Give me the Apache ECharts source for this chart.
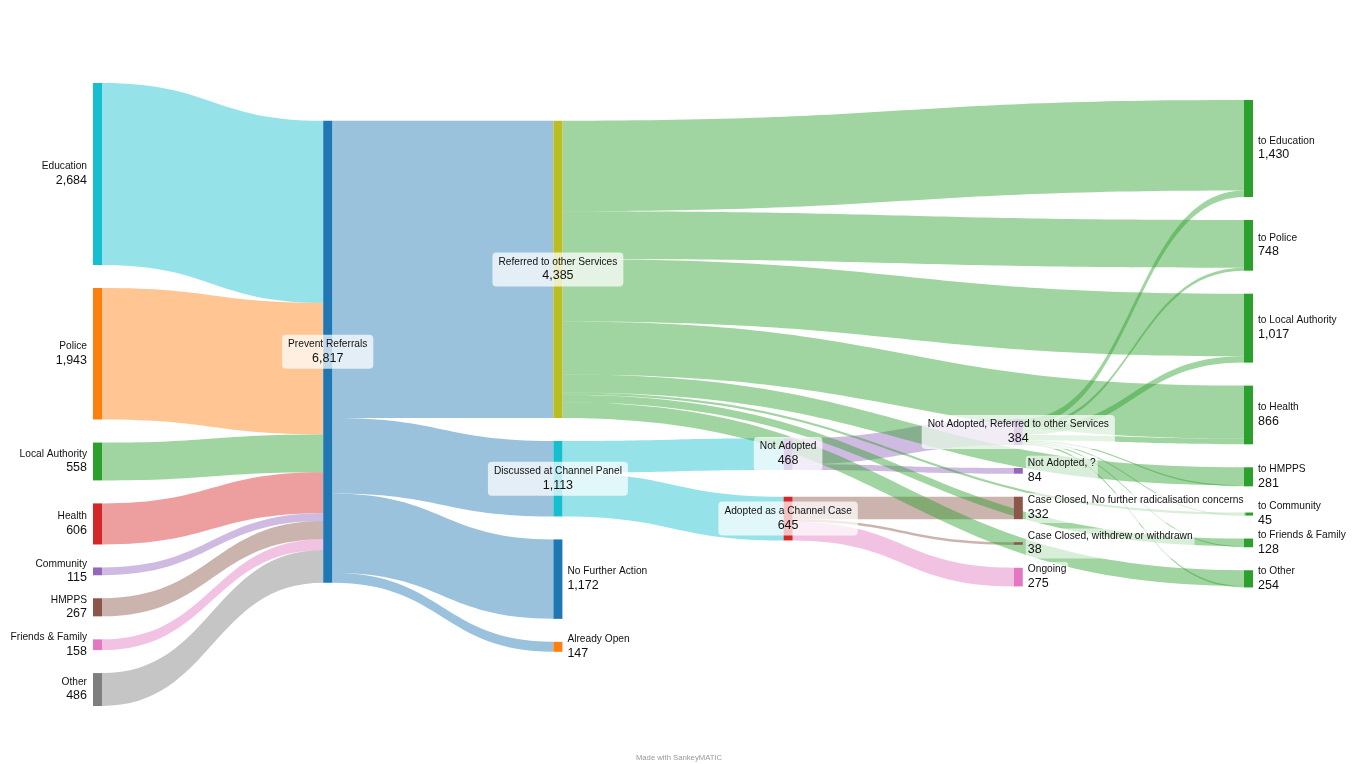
<!DOCTYPE html>
<html><head><meta charset="utf-8">
<script src="https://cdn.jsdelivr.net/npm/echarts@6/dist/echarts.min.js"></script>
<style>html,body{margin:0;padding:0;background:#fff}#c{width:1358px;height:764px}</style>
</head><body><div id="c"></div>
<script>
// ---- data ----
const hubName = 'Prevent Referrals';
const sourceNames = ['Education','Police','Local Authority','Health','Community','HMPPS','Friends & Family','Other'];
const sourceValues = [2684,1943,558,606,115,267,158,486];
const outcomeNames = ['Referred to other Services','Discussed at Channel Panel','No Further Action','Already Open'];
const outcomeValues = [4385,1113,1172,147];
const channelNames = ['Not Adopted','Adopted as a Channel Case'];
const channelValues = [468,645];
const notAdoptedNames = ['Not Adopted, Referred to other Services','Not Adopted, ?'];
const notAdoptedValues = [384,84];
const adoptedNames = ['Case Closed, No further radicalisation concerns','Case Closed, withdrew or withdrawn','Ongoing'];
const adoptedValues = [332,38,275];
const destNames = ['to Education','to Police','to Local Authority','to Health','to HMPPS','to Community','to Friends & Family','to Other'];
const fromReferredValues = [1335,703,922,782,266,33,113,231];
const fromNotAdoptedReferredValues = [95,45,95,84,15,12,15,23];

// ---- colours (style) ----
const colorMap = {
  'Education':'#17becf','Police':'#ff7f0e','Local Authority':'#2ca02c','Health':'#d62728',
  'Community':'#9467bd','HMPPS':'#8c564b','Friends & Family':'#e377c2','Other':'#7f7f7f',
  'Prevent Referrals':'#1f77b4','Referred to other Services':'#bcbd22','Discussed at Channel Panel':'#17becf',
  'No Further Action':'#1f77b4','Already Open':'#ff7f0e','Not Adopted':'#9467bd','Adopted as a Channel Case':'#d62728',
  'Not Adopted, Referred to other Services':'#9467bd','Not Adopted, ?':'#9467bd',
  'Case Closed, No further radicalisation concerns':'#8c564b','Case Closed, withdrew or withdrawn':'#8c564b','Ongoing':'#e377c2'
};
destNames.forEach(n => colorMap[n] = '#2ca02c');

// ---- build links ----
const links = [];
function addLink(s, t, v, useTarget) {
  links.push({source: s, target: t, value: v, lineStyle: {color: colorMap[useTarget ? t : s]}});
}
sourceNames.forEach((n, i) => addLink(n, hubName, sourceValues[i], false));
outcomeNames.forEach((n, i) => addLink(hubName, n, outcomeValues[i], false));
channelNames.forEach((n, i) => addLink(outcomeNames[1], n, channelValues[i], false));
notAdoptedNames.forEach((n, i) => addLink(channelNames[0], n, notAdoptedValues[i], true));
adoptedNames.forEach((n, i) => addLink(channelNames[1], n, adoptedValues[i], true));
destNames.forEach((n, i) => addLink(outcomeNames[0], n, fromReferredValues[i], true));
destNames.forEach((n, i) => addLink(notAdoptedNames[0], n, fromNotAdoptedReferredValues[i], true));

const allNames = [].concat(sourceNames, [hubName], outcomeNames, channelNames, notAdoptedNames, adoptedNames, destNames);
const inSum = {}, outSum = {};
links.forEach(l => { outSum[l.source] = (outSum[l.source]||0) + l.value; inSum[l.target] = (inSum[l.target]||0) + l.value; });
const nodeValue = n => Math.max(inSum[n]||0, outSum[n]||0);

// ---- layout geometry ----
const TOP = 62, BOTTOM = 58, LEFT = 93, RIGHT = 105;
const H = 764 - TOP - BOTTOM;
const ECH_GAP = 26;       // echarts nodeGap (sets the value->px scale the same way echarts does)
const PAD = 23;           // minimum spacing used when relaxing node positions
const ITER = 6;

function computeLayers() {
  const layer = {}; allNames.forEach(n => layer[n] = 0);
  let changed = true;
  while (changed) {
    changed = false;
    links.forEach(l => { if (layer[l.target] < layer[l.source] + 1) { layer[l.target] = layer[l.source] + 1; changed = true; } });
  }
  return layer;
}
const layerOf = computeLayers();
const nLayers = Math.max.apply(null, allNames.map(n => layerOf[n])) + 1;
const colNames = Array.from({length: nLayers}, () => []);
allNames.forEach(n => colNames[layerOf[n]].push(n));
// same value->pixel scale ECharts computes: min over columns of (H - (n-1)*gap) / sum
const ky = Math.min.apply(null, colNames.map(c => (H - (c.length - 1) * ECH_GAP) / c.reduce((s, n) => s + nodeValue(n), 0)));

// order-preserving relaxation (d3-sankey style) -> vertical node positions
function relaxLayout() {
  const byName = {};
  const N = allNames.map((n, i) => (byName[n] = {name: n, index: i, layer: layerOf[n], value: nodeValue(n), sourceLinks: [], targetLinks: []}));
  links.forEach((l, i) => {
    const o = {index: i, source: byName[l.source], target: byName[l.target], value: l.value, width: l.value * ky};
    o.source.sourceLinks.push(o); o.target.targetLinks.push(o);
  });
  const columns = colNames.map(c => c.map(n => byName[n]));
  columns.forEach(col => {
    let y = 0;
    col.forEach(n => { n.y0 = y; n.y1 = y + n.value * ky; y = n.y1 + PAD; });
    const s = (H - y + PAD) / (col.length + 1);
    col.forEach((n, i) => { n.y0 += s * (i + 1); n.y1 += s * (i + 1); });
  });
  function reorder() {
    N.forEach(n => {
      n.sourceLinks.sort((a, b) => (a.target.y0 - b.target.y0) || (a.index - b.index));
      n.targetLinks.sort((a, b) => (a.source.y0 - b.source.y0) || (a.index - b.index));
    });
  }
  reorder();
  function targetTop(source, target) {
    let y = source.y0;
    for (const l of source.sourceLinks) { if (l.target === target) break; y += l.width + PAD; }
    for (const l of target.targetLinks) { if (l.source === source) break; y -= l.width; }
    return y;
  }
  function sourceTop(source, target) {
    let y = target.y0;
    for (const l of target.targetLinks) { if (l.source === source) break; y += l.width + PAD; }
    for (const l of source.sourceLinks) { if (l.target === target) break; y -= l.width; }
    return y;
  }
  function downPass(nodes, y, i) {
    for (; i < nodes.length; ++i) { const n = nodes[i]; const dy = y - n.y0; if (dy > 1e-6) { n.y0 += dy; n.y1 += dy; } y = n.y1 + PAD; }
  }
  function upPass(nodes, y, i) {
    for (; i >= 0; --i) { const n = nodes[i]; const dy = n.y1 - y; if (dy > 1e-6) { n.y0 -= dy; n.y1 -= dy; } y = n.y0 - PAD; }
  }
  function resolve(nodes) {
    const i = nodes.length >> 1, subj = nodes[i];
    upPass(nodes, subj.y0 - PAD, i - 1);
    downPass(nodes, subj.y1 + PAD, i + 1);
    upPass(nodes, H, nodes.length - 1);
    downPass(nodes, 0, 0);
  }
  for (let it = 0; it < ITER; ++it) {
    const alpha = Math.pow(0.99, it);
    for (let i = columns.length - 2; i >= 0; --i) {
      for (const s of columns[i]) {
        let y = 0, w = 0;
        for (const l of s.sourceLinks) { const v = l.value * (l.target.layer - s.layer); y += sourceTop(s, l.target) * v; w += v; }
        if (!(w > 0)) continue;
        const dy = (y / w - s.y0) * alpha; s.y0 += dy; s.y1 += dy; reorder();
      }
      resolve(columns[i]);
    }
    for (let i = 1; i < columns.length; ++i) {
      for (const t of columns[i]) {
        let y = 0, w = 0;
        for (const l of t.targetLinks) { const v = l.value * (t.layer - l.source.layer); y += targetTop(l.source, t) * v; w += v; }
        if (!(w > 0)) continue;
        const dy = (y / w - t.y0) * alpha; t.y0 += dy; t.y1 += dy; reorder();
      }
      resolve(columns[i]);
    }
  }
  const pos = {}; N.forEach(n => pos[n.name] = n.y0 / H);
  return pos;
}
const localYOf = relaxLayout();

const fmt = v => Math.round(v).toLocaleString('en-US');
const FONT = '"Liberation Sans", Arial, Helvetica, sans-serif';
function richFor(align) {
  return {
    n: {fontSize: 10.2, lineHeight: 13, color: '#111', fontFamily: FONT, align: align},
    v: {fontSize: 12.5, lineHeight: 15, color: '#111', fontFamily: FONT, align: align}
  };
}
const nodes = allNames.map(n => {
  const hasIn = !!inSum[n], hasOut = !!outSum[n];
  let label;
  if (!hasIn) {
    label = {position: 'left', distance: 4, align: 'right', rich: richFor('right'),
             backgroundColor: 'rgba(255,255,255,0.6)', padding: [1, 2], borderRadius: 3};
  } else if (!hasOut) {
    label = {position: 'right', distance: 3, align: 'left', rich: richFor('left'),
             backgroundColor: 'rgba(255,255,255,0.6)', padding: [1, 2], borderRadius: 3};
  } else {
    label = {position: 'inside', align: 'center', rich: richFor('center'),
             backgroundColor: 'rgba(255,255,255,0.72)', padding: [3, 6], borderRadius: 4};
  }
  return {name: n, value: nodeValue(n), localY: localYOf[n], itemStyle: {color: colorMap[n]}, label: label};
});

const chart = echarts.init(document.getElementById('c'), null, {renderer: 'canvas'});
chart.setOption({
  animation: false,
  backgroundColor: '#fff',
  title: {
    text: 'Made with SankeyMATIC', left: 'center', bottom: 2, padding: 0,
    textStyle: {fontSize: 7.7, fontWeight: 'normal', color: '#999', fontFamily: FONT}
  },
  series: [{
    type: 'sankey',
    left: LEFT, right: RIGHT, top: TOP, bottom: BOTTOM,
    nodeWidth: 9,
    nodeGap: ECH_GAP,
    nodeAlign: 'left',
    layoutIterations: 0,
    draggable: false,
    emphasis: {disabled: true},
    data: nodes,
    links: links,
    itemStyle: {borderWidth: 0, opacity: 1},
    lineStyle: {opacity: 0.45, curveness: 0.5},
    label: {
      show: true,
      color: '#111',
      fontFamily: FONT,
      formatter: p => '{n|' + p.name + '}\n{v|' + fmt(p.value) + '}'
    }
  }]
});
</script>
</body></html>
